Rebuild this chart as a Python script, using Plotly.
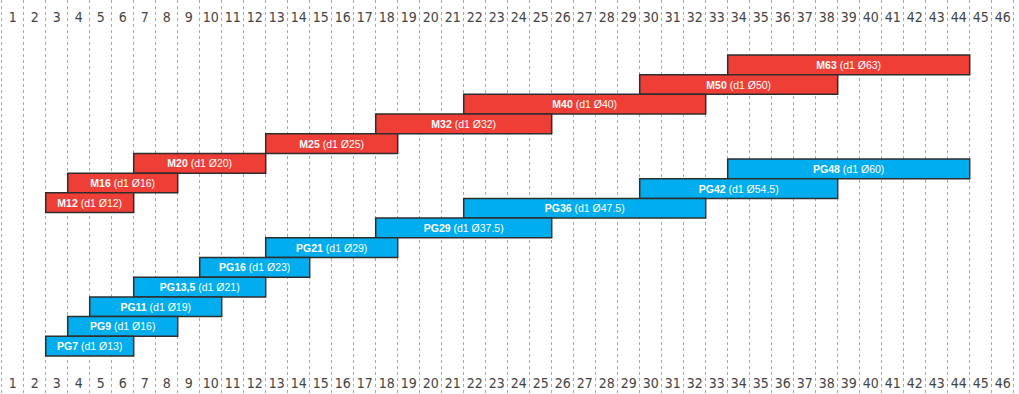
import plotly.graph_objects as go

# Column numbers printed along the top and bottom edges
columns = list(range(1, 47))
column_labels = [str(c) for c in columns]

# Metric cable glands (red): name, d1 diameter, first/last column covered
m_names = ["M63", "M50", "M40", "M32", "M25", "M20", "M16", "M12"]
m_d1 = ["63", "50", "40", "32", "25", "20", "16", "12"]
m_start = [34, 30, 22, 18, 13, 7, 4, 3]
m_end = [44, 38, 32, 25, 18, 12, 8, 6]

# PG cable glands (blue)
pg_names = ["PG48", "PG42", "PG36", "PG29", "PG21", "PG16", "PG13,5", "PG11", "PG9", "PG7"]
pg_d1 = ["60", "54.5", "47.5", "37.5", "29", "23", "21", "19", "16", "13"]
pg_start = [34, 30, 22, 18, 13, 10, 7, 5, 4, 3]
pg_end = [44, 38, 32, 25, 18, 14, 12, 10, 8, 6]

RED = "#EF3E36"
BLUE = "#00AEEF"
EDGE = "#2E2E2E"

# vertical layout in row units (one bar per row), rows counted from the top
M_TOP = 2.79
PG_TOP = 8.07
N_ROWS = 20.0

BAR_FONT = dict(family="Liberation Sans, Arial, Helvetica, sans-serif", size=10.5, color="white")
TICK_FONT = dict(family="Liberation Sans Narrow, DejaVu Sans Condensed, Roboto Condensed, sans-serif",
                 size=14, color="#444444")


def gland_bars(names, d1, start, end, top, color, xaxis):
    rows = [top + i + 0.5 for i in range(len(names))]
    return go.Bar(
        orientation="h",
        y=rows,
        base=[s - 0.5 for s in start],
        x=[e - s + 1 for s, e in zip(start, end)],
        width=1.0,
        customdata=list(zip(names, d1)),
        texttemplate="<b>%{customdata[0]}</b> (d1 Ø%{customdata[1]})",
        textposition="inside",
        insidetextanchor="middle",
        textangle=0,
        constraintext="none",
        textfont=BAR_FONT,
        marker=dict(color=color, line=dict(color=EDGE, width=1.5)),
        xaxis=xaxis,
        yaxis="y",
        hoverinfo="skip",
        showlegend=False,
    )


fig = go.Figure()
fig.add_trace(gland_bars(m_names, m_d1, m_start, m_end, M_TOP, RED, "x"))
fig.add_trace(gland_bars(pg_names, pg_d1, pg_start, pg_end, PG_TOP, BLUE, "x2"))

x_range = [0.5 - 1.7 / 22.0, 0.5 + (1019 - 1.7) / 22.0]

common_x = dict(
    range=x_range,
    tickmode="array",
    tickvals=columns,
    ticktext=column_labels,
    ticks="",
    ticklabelposition="inside",
    tickfont=TICK_FONT,
    showgrid=False,
    zeroline=False,
    showline=False,
    fixedrange=True,
)

fig.update_layout(
    width=1019,
    height=394,
    margin=dict(l=0, r=0, t=0, b=0),
    paper_bgcolor="white",
    plot_bgcolor="white",
    barmode="overlay",
    xaxis=dict(
        **common_x,
        side="bottom",
        ticklen=0,
        ticklabelstandoff=0,
        minor=dict(tickmode="linear", tick0=0.5, dtick=1, showgrid=True,
                   gridcolor="#A8A8A8", gridwidth=1, griddash="dot", ticks=""),
    ),
    xaxis2=dict(
        **common_x,
        side="top",
        overlaying="x",
        matches="x",
        ticklabelstandoff=9,
    ),
    yaxis=dict(range=[N_ROWS, 0], visible=False, fixedrange=True),
)

fig.write_html("out.html")
